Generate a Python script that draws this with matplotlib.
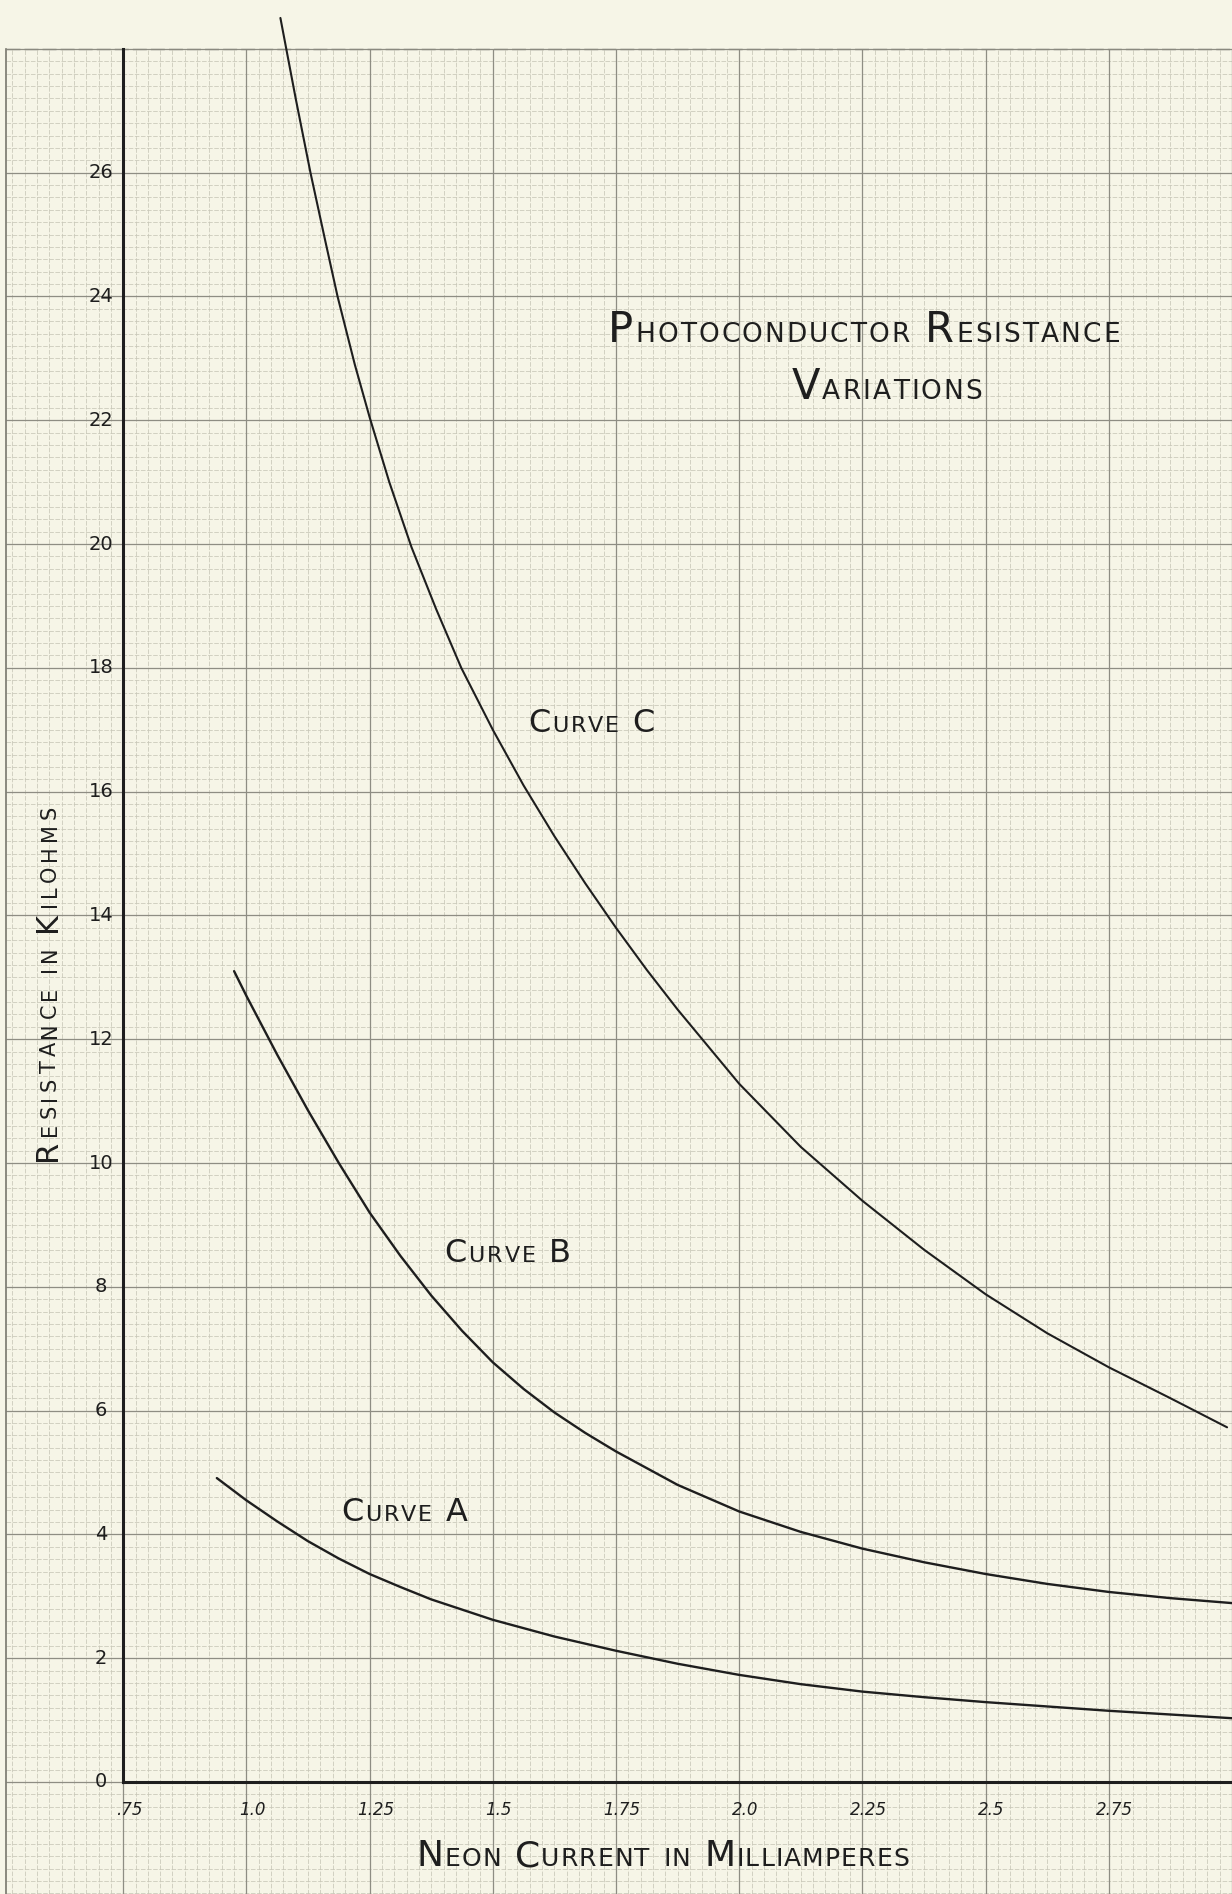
import matplotlib.pyplot as plt
import numpy as np

# values (neon current mA -> resistance kilohms)
curve_a_x = [0.94, 1.0, 1.0625, 1.125, 1.1875, 1.25, 1.3125, 1.375, 1.5, 1.625, 1.75,
             1.875, 2.0, 2.125, 2.25, 2.375, 2.5, 2.625, 2.75, 2.875, 3.0]
curve_a_y = [4.91, 4.55, 4.21, 3.89, 3.61, 3.36, 3.15, 2.95, 2.62, 2.35, 2.12,
             1.91, 1.73, 1.58, 1.46, 1.37, 1.29, 1.22, 1.15, 1.09, 1.03]

curve_b_x = [0.975, 1.0, 1.0625, 1.125, 1.1875, 1.25, 1.3125, 1.375, 1.4375, 1.5,
             1.5625, 1.625, 1.6875, 1.75, 1.875, 2.0, 2.125, 2.25, 2.375, 2.5, 2.625,
             2.75, 2.875, 3.0]
curve_b_y = [13.1, 12.7, 11.75, 10.85, 10.0, 9.2, 8.5, 7.86, 7.29, 6.78,
             6.35, 5.97, 5.64, 5.34, 4.80, 4.37, 4.04, 3.77, 3.55, 3.36, 3.20,
             3.07, 2.97, 2.89]

curve_c_x = [1.069, 1.10, 1.13, 1.16, 1.185, 1.22, 1.25, 1.29, 1.335, 1.385, 1.436, 1.5,
             1.5625, 1.625, 1.6875, 1.75, 1.8125, 1.875, 2.0, 2.125, 2.25, 2.375, 2.5,
             2.625, 2.75, 2.875, 2.99]
curve_c_y = [28.5, 27.2, 26.0, 24.9, 24.0, 22.9, 22.05, 21.0, 19.95, 18.95, 18.0, 17.0,
             16.1, 15.28, 14.52, 13.8, 13.12, 12.48, 11.28, 10.26, 9.39, 8.6, 7.88,
             7.25, 6.7, 6.2, 5.73]

x_tick_vals = [0.75, 1.0, 1.25, 1.5, 1.75, 2.0, 2.25, 2.5, 2.75]
x_tick_labels = ['.75', '1.0', '1.25', '1.5', '1.75', '2.0', '2.25', '2.5', '2.75']
y_tick_vals = [0, 2, 4, 6, 8, 10, 12, 14, 16, 18, 20, 22, 24, 26]

paper = '#f6f5e7'
ink = '#1e1e1e'
FONT = 'DejaVu Sans'


def lettering(ax, x, y, text, big, small, track=1.0, rotation=0):
    # hand-lettered small caps: capital first letter, smaller capitals after
    fig = ax.figure
    r = fig.canvas.get_renderer()
    chars = []
    for word in text.split(' '):
        for i, ch in enumerate(word):
            size = big if (i == 0 and ch.isupper()) else small
            chars.append((ch.upper(), size))
        chars.append((' ', small))
    chars = chars[:-1]
    widths = []
    for ch, size in chars:
        if ch == ' ':
            widths.append(size * 0.5)
            continue
        t = ax.text(0, 0, ch, fontsize=size, family=FONT)
        widths.append(t.get_window_extent(r).width * 72 / fig.dpi + track)
        t.remove()
    total = sum(widths) - track
    off = -total / 2
    for (ch, size), w in zip(chars, widths):
        if ch != ' ':
            dxy = (0, off) if rotation == 90 else (off, 0)
            ax.annotate(ch, (x, y), xytext=dxy, textcoords='offset points',
                        fontsize=size, family=FONT, color=ink, rotation=rotation,
                        rotation_mode='anchor', ha='left', va='baseline', zorder=5)
        off += w


fig = plt.figure(figsize=(12.32, 18.94), dpi=100, facecolor=paper)
ax = fig.add_axes([0, 0, 1, 1])
ax.set_facecolor(paper)
ax.set_xlim(0.5, 3.0)
ax.set_ylim(-1.81, 28.79)
ax.axis('off')

# graph paper ruling
left, top, bottom, right = 0.513, 28.0, -1.81, 3.0
minor_x = np.arange(0.525, 3.0001, 0.025)
minor_y = np.arange(-1.8, 28.0001, 0.2)
ax.vlines(minor_x, bottom, top, colors='#c8c7b8', lw=0.55, linestyles=(0, (6, 2)), zorder=1)
ax.hlines(minor_y, left, right, colors='#c8c7b8', lw=0.55, linestyles=(0, (6, 2)), zorder=1)
major_x = np.arange(0.75, 3.0001, 0.25)
major_y = np.arange(0, 28.0001, 2)
ax.vlines(major_x, bottom, top, colors='#8e8d83', lw=0.9, zorder=1.5)
ax.hlines(major_y, left, right, colors='#8e8d83', lw=0.9, zorder=1.5)
ax.plot([left, left], [bottom, top], color='#77766c', lw=1.2, zorder=1.5)
ax.plot([left, right], [top, top], color='#8a897f', lw=1.0, ls=(0, (10, 3)), zorder=1.5)

# main axes
ax.plot([0.75, 0.75], [0, top], color=ink, lw=2.2, zorder=3)
ax.plot([0.75, right], [0, 0], color=ink, lw=2.2, zorder=3)

# curves
ax.plot(curve_a_x, curve_a_y, color=ink, lw=1.7, solid_capstyle='round',
        solid_joinstyle='round', zorder=4)
ax.plot(curve_b_x, curve_b_y, color=ink, lw=1.7, solid_capstyle='round',
        solid_joinstyle='round', zorder=4)
ax.plot(curve_c_x, curve_c_y, color=ink, lw=1.5, solid_capstyle='round',
        solid_joinstyle='round', zorder=4)

# tick labels
for v, lab in zip(x_tick_vals, x_tick_labels):
    ax.text(v + 0.012, -0.46, lab, ha='center', va='center', fontsize=12,
            style='italic', family=FONT, color=ink, zorder=5)
for v in y_tick_vals:
    ax.text(0.705, v, str(v), ha='center', va='center', fontsize=14,
            family=FONT, color=ink, zorder=5)

# lettering
lettering(ax, 2.253, 23.26, 'Photoconductor Resistance', 30, 19, track=1.5)
lettering(ax, 2.30, 22.35, 'Variations', 30, 19, track=1.5)
lettering(ax, 1.70, 16.96, 'Curve C', 23, 16, track=1.5)
lettering(ax, 1.53, 8.40, 'Curve B', 23, 16, track=1.5)
lettering(ax, 1.32, 4.22, 'Curve A', 23, 16, track=1.5)
lettering(ax, 1.845, -1.36, 'Neon Current in Milliamperes', 26, 18, track=0.8)
lettering(ax, 0.613, 12.9, 'Resistance in Kilohms', 22, 15, track=3.0, rotation=90)

fig.savefig('out.png', dpi=100, facecolor=paper)
